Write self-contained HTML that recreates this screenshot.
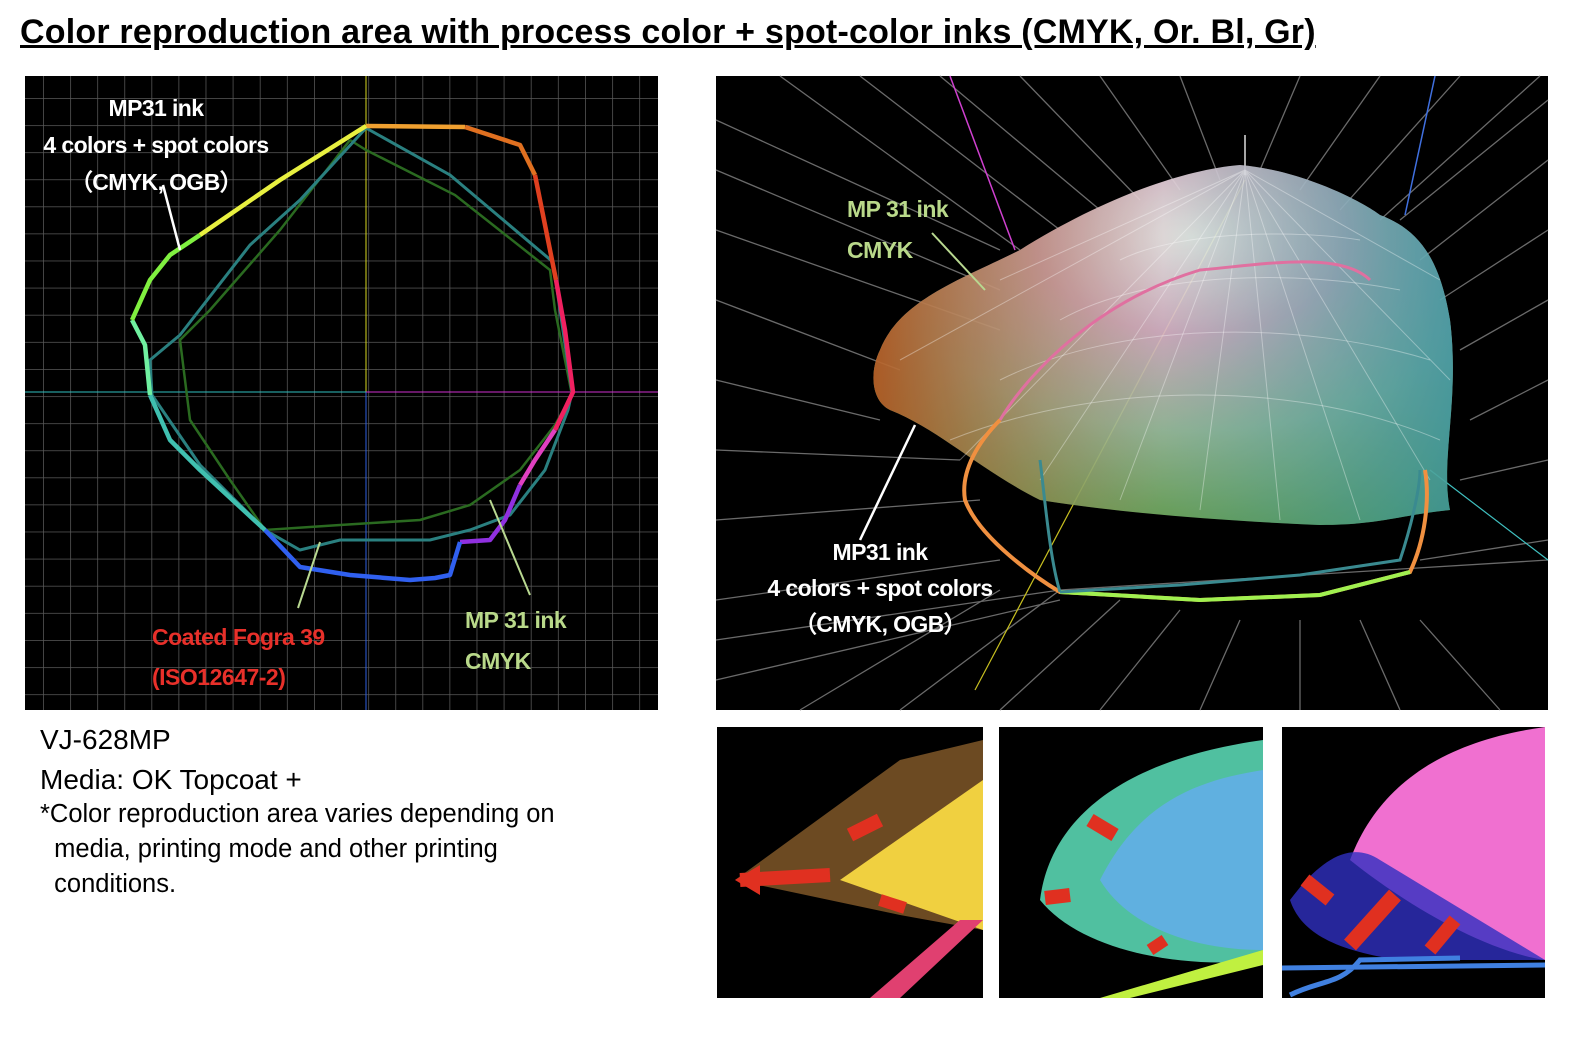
<!DOCTYPE html>
<html><head><meta charset="utf-8"><style>
body{margin:0;width:1586px;height:1044px;background:#fff;position:relative;overflow:hidden;font-family:"Liberation Sans",sans-serif}
.t{position:absolute;white-space:nowrap}
</style></head><body>
<div class="t" style="left:20px;top:13px;font-size:34px;font-weight:bold;text-decoration:underline;letter-spacing:0.2px">Color reproduction area with process color + spot-color inks (CMYK, Or. Bl, Gr)</div>

<svg style="position:absolute;left:0;top:0" width="1586" height="1044">
<defs>
<pattern id="g" x="43" y="98" width="27.1" height="27.1" patternUnits="userSpaceOnUse">
<path d="M0 0V27.1M0 0H27.1" stroke="#5a5a5a" stroke-width="1.5" fill="none"/></pattern>
<radialGradient id="blob" cx="0.55" cy="0.2" r="0.9">
<stop offset="0" stop-color="#f4f4f0"/><stop offset="0.3" stop-color="#d9b5c8"/><stop offset="0.6" stop-color="#9cc0a0"/><stop offset="1" stop-color="#5aa040"/></radialGradient>
<linearGradient id="blobL" x1="0" y1="0" x2="1" y2="0"><stop offset="0" stop-color="#c05a20" stop-opacity="0.9"/><stop offset="0.5" stop-color="#c08a60" stop-opacity="0"/></linearGradient>
<linearGradient id="blobR" x1="0" y1="0" x2="1" y2="0"><stop offset="0.5" stop-color="#50b0b0" stop-opacity="0"/><stop offset="1" stop-color="#40a0b0" stop-opacity="0.8"/></linearGradient>
</defs>
<rect x="25" y="76" width="633" height="634" fill="#000"/>
<rect x="25" y="76" width="633" height="634" fill="url(#g)"/>
<line x1="366" y1="76" x2="366" y2="392" stroke="#d8d820" stroke-width="1"/>
<line x1="366" y1="392" x2="366" y2="710" stroke="#3060e0" stroke-width="1"/>
<line x1="25" y1="392" x2="366" y2="392" stroke="#30c0c0" stroke-width="1"/>
<line x1="366" y1="392" x2="658" y2="392" stroke="#d030d0" stroke-width="1"/>
<polyline fill="none" stroke="#2a6a20" stroke-width="2.5" points="350,140 280,230 210,310 180,340 190,420 230,480 265,530 340,525 420,520 470,505 520,470 555,425 572,395 555,310 550,270 455,195 366,150 350,140"/>
<polyline fill="none" stroke="#2a8080" stroke-width="3" points="366,128 300,200 250,245 180,335 150,360 152,395 200,465 265,530 300,550 340,540 430,540 470,530 510,515 545,470 568,410 572,392 553,262 450,175 366,128"/>
<g fill="none" stroke-width="4.5" stroke-linejoin="round">
<polyline stroke="#f0a030" points="366,126 465,127"/>
<polyline stroke="#e07020" points="465,127 520,145 535,175"/>
<polyline stroke="#e04020" points="535,175 548,240 556,280"/>
<polyline stroke="#f02060" points="556,280 565,330 573,392 555,430"/>
<polyline stroke="#e040c0" points="555,430 535,460 520,485"/>
<polyline stroke="#9030e0" points="520,485 505,520 490,540 460,542"/>
<polyline stroke="#3060f0" points="460,542 450,575 435,578 410,580 350,575 300,567 265,530"/>
<polyline stroke="#40c0b0" points="265,530 200,470 170,440 150,395"/>
<polyline stroke="#70f0a0" points="150,395 145,345 132,320"/>
<polyline stroke="#80f040" points="132,320 150,280 170,255 200,235"/>
<polyline stroke="#e8f040" points="200,235 280,180 366,126"/>
</g>
<line x1="180" y1="250" x2="163" y2="185" stroke="#fff" stroke-width="2.5"/>
<line x1="298" y1="608" x2="320" y2="542" stroke="#b8d890" stroke-width="2"/>
<line x1="530" y1="595" x2="490" y2="500" stroke="#b8d890" stroke-width="2"/>

<rect x="716" y="76" width="832" height="634" fill="#000"/>
<g stroke="#6a6a6a" stroke-width="1.3" fill="none">
<path d="M716 120 L1000 250 M716 170 L1000 290 M716 230 L1000 330 M716 300 L900 370 M716 380 L880 420 M716 450 L960 460 M716 520 L980 500 M716 600 L1000 560 M716 680 L1060 600"/>
<path d="M780 76 L1020 250 M860 76 L1060 230 M940 76 L1100 210 M1020 76 L1140 200 M1100 76 L1180 190 M1180 76 L1220 180"/>
<path d="M1548 100 L1400 220 M1548 160 L1420 260 M1548 230 L1440 300 M1548 300 L1460 350 M1548 380 L1470 420 M1548 460 L1460 480 M1548 540 L1420 560"/>
<path d="M1300 76 L1260 170 M1380 76 L1300 190 M1460 76 L1340 210 M1540 76 L1380 220"/>
<path d="M900 710 L1060 590 M1000 710 L1120 600 M1100 710 L1180 610 M1200 710 L1240 620 M1300 710 L1300 620 M1400 710 L1360 620 M1500 710 L1420 620 M800 710 L1000 590"/>
<path d="M716 640 L1060 590 L1548 560"/>
</g>
<line x1="1245" y1="135" x2="1245" y2="175" stroke="#ddd" stroke-width="1.5"/>
<path d="M950 76 L1015 250" stroke="#d040d0" stroke-width="1.5" fill="none"/>
<path d="M1435 76 L1405 215" stroke="#4070e0" stroke-width="1.5" fill="none"/>
<line x1="975" y1="690" x2="1245" y2="180" stroke="#c8c020" stroke-width="1.2"/>
<line x1="1430" y1="470" x2="1548" y2="560" stroke="#40c0c0" stroke-width="1.2"/>
<g opacity="0.92">
<path id="bl" d="M880 350 C900 300 960 280 1020 250 C1100 200 1180 170 1240 165 C1300 170 1360 200 1380 215 C1420 230 1440 260 1450 320 C1460 400 1440 460 1450 510 C1400 515 1380 525 1320 525 C1200 520 1100 510 1040 500 C980 470 940 430 890 410 C870 400 870 370 880 350 Z" fill="url(#blob)"/>
<path d="M880 350 C900 300 960 280 1020 250 C1100 200 1180 170 1240 165 C1300 170 1360 200 1380 215 C1420 230 1440 260 1450 320 C1460 400 1440 460 1450 510 C1400 515 1380 525 1320 525 C1200 520 1100 510 1040 500 C980 470 940 430 890 410 C870 400 870 370 880 350 Z" fill="url(#blobL)"/>
<path d="M880 350 C900 300 960 280 1020 250 C1100 200 1180 170 1240 165 C1300 170 1360 200 1380 215 C1420 230 1440 260 1450 320 C1460 400 1440 460 1450 510 C1400 515 1380 525 1320 525 C1200 520 1100 510 1040 500 C980 470 940 430 890 410 C870 400 870 370 880 350 Z" fill="url(#blobR)"/>
</g>
<g stroke="#ffffff" stroke-opacity="0.35" stroke-width="1" fill="none">
<path d="M1245 170 L960 460 M1245 170 L1040 480 M1245 170 L1120 500 M1245 170 L1200 510 M1245 170 L1280 520 M1245 170 L1360 520 M1245 170 L1430 480 M1245 170 L1450 380 M1245 170 L1440 280 M1245 170 L900 360 M1245 170 L1000 280"/>
<path d="M950 440 C1100 380 1300 380 1440 440 M1000 380 C1120 320 1300 320 1430 360 M1060 320 C1150 270 1300 270 1400 290 M1120 260 C1180 230 1300 230 1360 240"/>
</g>
<path d="M1000 420 C1030 370 1100 300 1200 270 C1260 265 1340 250 1370 280" stroke="#e070a0" stroke-width="3" fill="none"/>
<path d="M1000 420 C980 440 960 470 965 500 C980 540 1040 580 1060 592 L1200 600 L1320 595 L1410 572 C1425 540 1430 500 1425 470" stroke="#f09040" stroke-width="4" fill="none"/>
<path d="M1060 592 L1200 600 L1320 595 L1410 572" stroke="#a0f050" stroke-width="4" fill="none"/>
<path d="M1060 592 L1180 585 L1300 575 L1400 560 C1410 530 1420 490 1420 470 M1060 592 C1050 560 1045 500 1040 460" stroke="#3a8a90" stroke-width="3" fill="none"/>
<line x1="985" y1="290" x2="932" y2="233" stroke="#b8d890" stroke-width="2"/>
<line x1="860" y1="540" x2="915" y2="425" stroke="#fff" stroke-width="2.5"/>

<rect x="717" y="727" width="266" height="271" fill="#000"/>
<path d="M735 880 L900 760 L983 740 L983 930 L900 915 Z" fill="#9a6a30" opacity="0.7"/>
<path d="M840 880 L983 780 L983 930 Z" fill="#f0d040"/>
<path d="M870 998 L960 920 L983 920 L900 998 Z" fill="#e04070"/>
<path d="M740 880 L830 875" stroke="#e03020" stroke-width="14"/><path d="M735 880 L760 865 L760 895 Z" fill="#e03020"/>
<path d="M850 835 L880 820" stroke="#e03020" stroke-width="14"/>
<path d="M880 900 L905 908" stroke="#e03020" stroke-width="12"/>
<rect x="999" y="727" width="264" height="271" fill="#000"/>
<path d="M1040 900 C1050 820 1120 760 1263 740 L1263 960 C1180 970 1080 950 1040 900 Z" fill="#50c0a0"/>
<path d="M1100 880 C1140 800 1200 780 1263 770 L1263 950 C1200 950 1130 930 1100 880 Z" fill="#60b0e0"/>
<path d="M1100 998 L1263 950 L1263 965 L1130 998 Z" fill="#c0f040"/>
<path d="M1090 820 L1115 835" stroke="#e03020" stroke-width="14"/>
<path d="M1045 898 L1070 895" stroke="#e03020" stroke-width="14"/>
<path d="M1150 950 L1165 940" stroke="#e03020" stroke-width="12"/>
<rect x="1282" y="727" width="263" height="271" fill="#000"/>
<path d="M1350 860 C1380 780 1450 740 1545 727 L1545 960 C1480 950 1400 900 1350 860 Z" fill="#f070d0"/>
<path d="M1290 900 C1320 860 1350 840 1380 860 L1545 960 L1400 960 C1330 950 1300 930 1290 900 Z" fill="#3030c0" opacity="0.8"/>
<path d="M1282 968 L1545 965 M1290 995 C1320 980 1340 985 1360 960 L1460 958" stroke="#4080e0" stroke-width="5" fill="none"/>
<path d="M1305 880 L1330 900" stroke="#e03020" stroke-width="14"/>
<path d="M1350 945 L1395 895" stroke="#e03020" stroke-width="16"/>
<path d="M1430 950 L1455 920" stroke="#e03020" stroke-width="14"/>
</svg>

<div class="t" style="left:38px;top:90px;width:236px;text-align:center;color:#fff;font-weight:bold;font-size:23px;line-height:37px;letter-spacing:-0.6px">MP31 ink<br>4 colors + spot colors<br>（CMYK, OGB）</div>
<div class="t" style="left:152px;top:617px;color:#e8302a;font-weight:bold;font-size:23px;line-height:40px;letter-spacing:-0.5px">Coated Fogra 39<br>(ISO12647-2)</div>
<div class="t" style="left:465px;top:600px;color:#b9d98a;font-weight:bold;font-size:23px;line-height:41px;letter-spacing:-0.5px">MP 31 ink<br>CMYK</div>
<div class="t" style="left:847px;top:189px;color:#b9d98a;font-weight:bold;font-size:23px;line-height:41px;letter-spacing:-0.5px">MP 31 ink<br>CMYK</div>
<div class="t" style="left:760px;top:534px;width:240px;text-align:center;color:#fff;font-weight:bold;font-size:23px;line-height:36px;letter-spacing:-0.6px">MP31 ink<br>4 colors + spot colors<br>（CMYK, OGB）</div>

<div class="t" style="left:40px;top:720px;font-size:28px;line-height:40px">VJ-628MP<br>Media: OK Topcoat +</div>
<div class="t" style="left:40px;top:797px;font-size:25.5px;line-height:35px">*Color reproduction area varies depending on<br>&nbsp;&nbsp;media, printing mode and other printing<br>&nbsp;&nbsp;conditions.</div>
</body></html>
